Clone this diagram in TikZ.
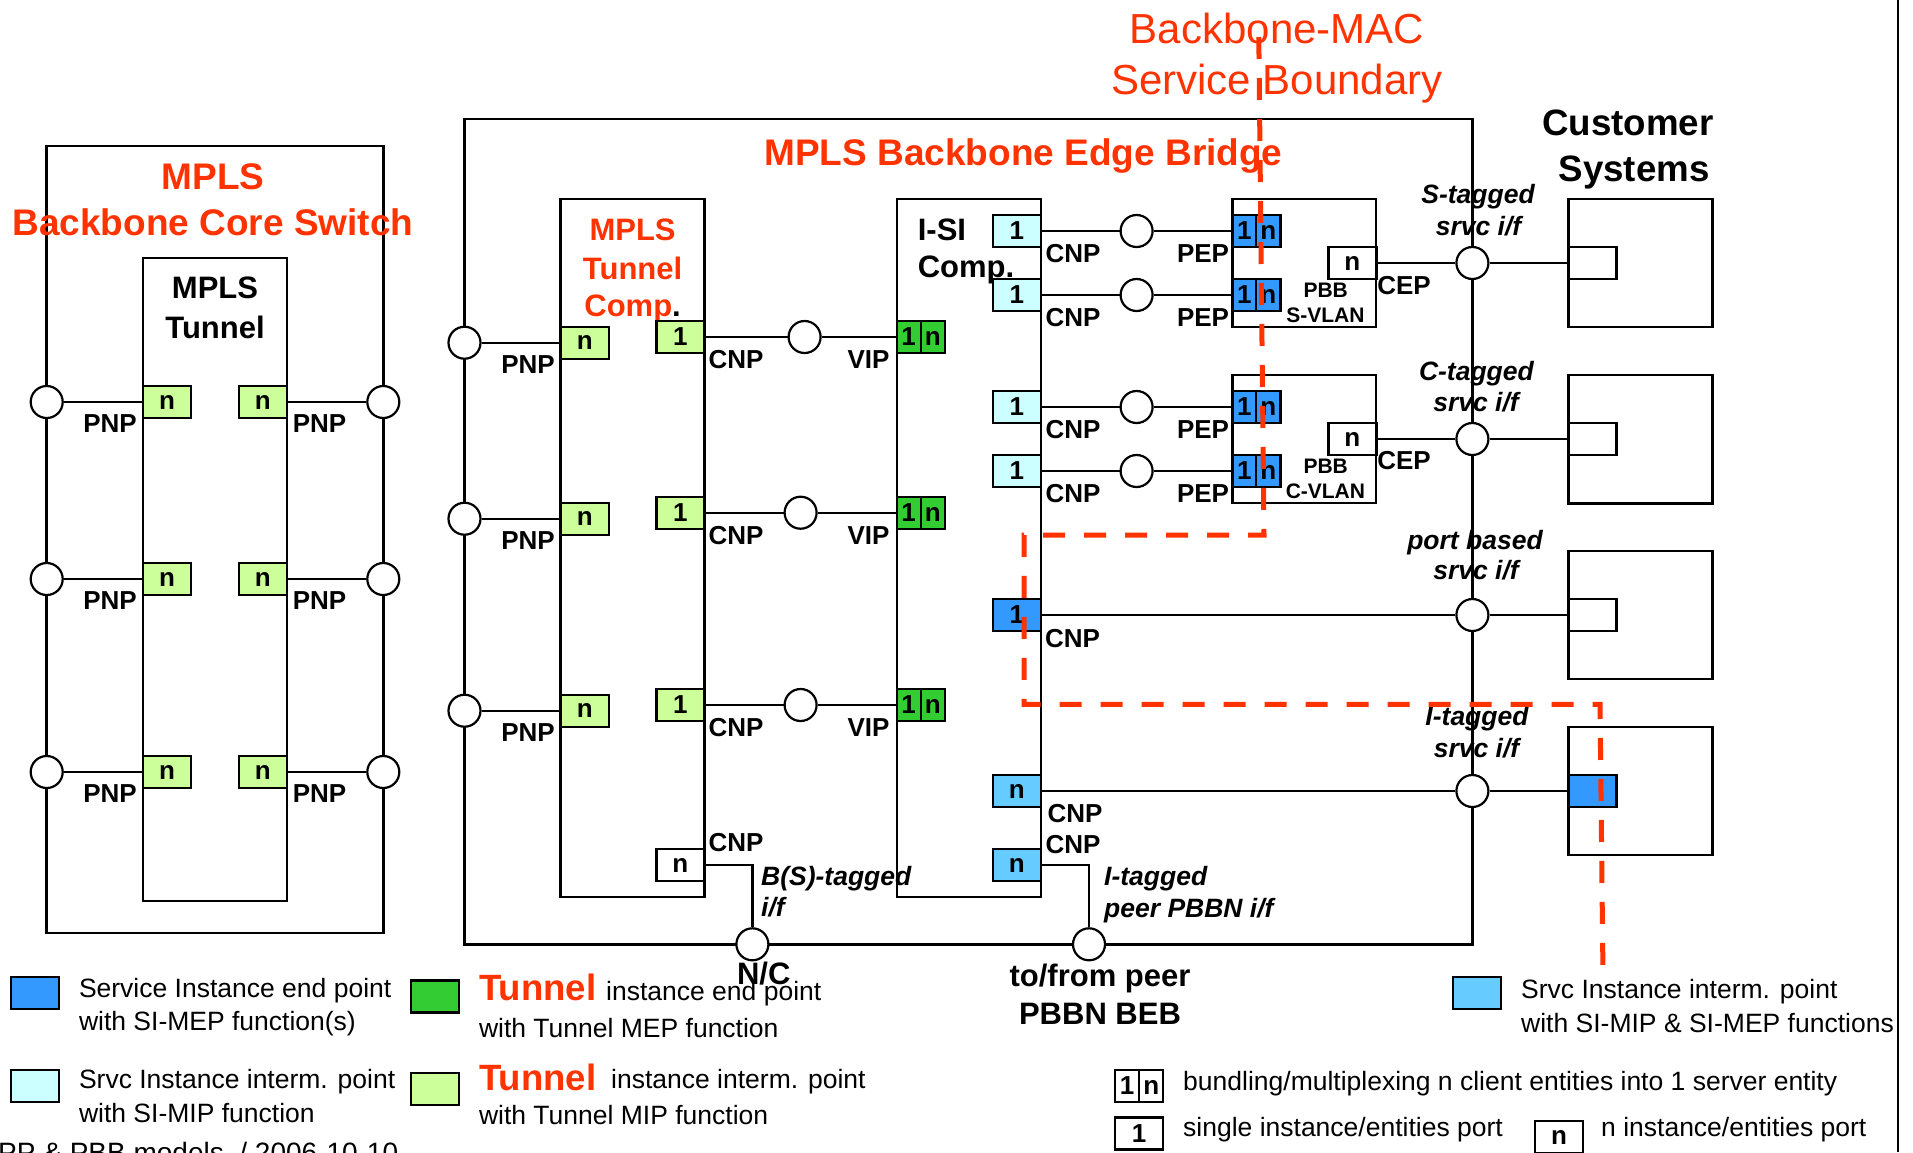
\documentclass[tikz,border=0pt]{standalone}
\usepackage{fontspec}
\setmainfont{Liberation Sans}
\newcommand\myfs[2]{\fontsize{#1pt}{#2pt}\selectfont}
\definecolor{mplsred}{HTML}{FF3300}
\definecolor{simep}{HTML}{3399FF}
\definecolor{simip}{HTML}{CCFFFF}
\definecolor{simipmep}{HTML}{66CCFF}
\definecolor{tunmep}{HTML}{33CC33}
\definecolor{tunmip}{HTML}{CCFF99}
\tikzset{
  frame/.style={draw, line width=2.4pt},
  port/.style={draw, line width=2.4pt, minimum width=48pt, minimum height=32pt,
    inner sep=0pt, font=\myfs{26}{30}\bfseries},
  bundle/.style={port, path picture={\draw[line width=2.2pt]
    (path picture bounding box.north) -- (path picture bounding box.south);}},
  pt/.style={circle, draw, fill=white, line width=2.2pt, minimum size=32pt, inner sep=0pt},
  wire/.style={line width=2.4pt},
  title/.style={font=\myfs{37}{44}\bfseries, text=mplsred, inner sep=0pt},
  big/.style={font=\myfs{31}{36}\bfseries, inner sep=0pt},
  lbl/.style={font=\myfs{26}{30}\bfseries, inner sep=0pt},
  pbb/.style={font=\myfs{21}{24}\bfseries, inner sep=0pt},
  ital/.style={font=\myfs{26.5}{32}\bfseries\itshape, inner sep=0pt},
  leg/.style={font=\myfs{26.5}{32}, inner sep=0pt, anchor=west},
  boundary/.style={mplsred, line width=5pt, dash pattern=on 22pt off 19pt},
}
\newcommand\bun{\makebox[24pt]{1}\makebox[24pt]{n}}
\begin{document}
\begin{tikzpicture}[x=1pt, y=-1pt]
\useasboundingbox (0,0) rectangle (1913,1152);
\clip (0,0) rectangle (1913,1152);
\fill[white] (0,0) rectangle (1913,1152);

% ---------------- MPLS Backbone Core Switch ----------------
\draw[frame, line width=2.8pt] (46.7,146) rectangle (383.3,933);
\draw[frame] (142.7,258) rectangle (287,901);
\node[title] (csT1) at (213,177) {MPLS};
\node[title] (csT2) at (213,222) {Backbone Core Switch};
\node[big] (ctT1) at (215,288) {MPLS};
\node[big] (ctT2) at (215,327) {Tunnel};
\foreach \r/\y in {1/402,2/579,3/772} {
  \node[pt] (csL\r) at (46.7,\y) {};
  \node[pt] (csR\r) at (383.3,\y) {};
  \node[port, fill=tunmip] (ctL\r) at (167,\y) {n};
  \node[port, fill=tunmip] (ctR\r) at (262.9,\y) {n};
  \draw[wire] (csL\r) -- (ctL\r);
  \draw[wire] (ctR\r) -- (csR\r);
  \node[lbl] (pnpL\r) at (110,\y+22) {PNP};
  \node[lbl] (pnpR\r) at (319.5,\y+22) {PNP};
}

% ---------------- MPLS Backbone Edge Bridge ----------------
\draw[frame] (464.5,119) rectangle (1472.4,944.3);
\node[title] (bebT) at (1023.5,156) {MPLS Backbone Edge Bridge};

% MPLS tunnel component
\draw[frame] (560.6,199) rectangle (704.5,896.7);
\node[big, text=mplsred] (tcT1) at (632.6,230) {MPLS};
\node[big, text=mplsred] (tcT2) at (632.6,268) {Tunnel};
\node[big, text=mplsred] (tcT3) at (632.6,309) {Comp\textcolor{black}{.}};

% I-SI component
\draw[frame] (896.7,199) rectangle (1041,896.7);
\node[big, anchor=west] (isT1) at (917.6,230) {I-SI};
\node[big, anchor=west] (isT2) at (917.6,270) {Comp.};

\foreach \r/\yl/\yc/\xc in {1/342.7/337/804.6, 2/518.7/512.7/800.6, 3/710.7/705/800.6} {
  \node[pt] (bL\r) at (464.5,\yl) {};
  \node[port, fill=tunmip] (tn\r) at (584.7,\yl) {n};
  \node[port, fill=tunmip] (t1\r) at (680.4,\yc) {1};
  \node[pt] (vc\r) at (\xc,\yc) {};
  \node[bundle, fill=tunmep] (vip\r) at (920.7,\yc) {\bun};
  \draw[wire] (bL\r) -- (tn\r);
  \draw[wire] (t1\r) -- (vc\r) -- (vip\r);
  \node[lbl] (pnp\r) at (528,\yl+22) {PNP};
  \node[lbl] (cnp\r) at (736,\yc+23) {CNP};
  \node[lbl] (vipl\r) at (868.5,\yc+23) {VIP};
}

% B(S)-tagged interface towards N/C
\node[port, fill=white] (tnB) at (680.3,865) {n};
\node[pt] (cNC) at (752.4,944.3) {};
\draw[wire] (tnB.east) -| (cNC);
\node[lbl] (cnpB) at (736,843) {CNP};
\node[ital, anchor=west] (bsT1) at (761,879) {B(S)-tagged};
\node[ital, anchor=west] (bsT2) at (761,907) {i/f};
\node[big] (nc) at (763.7,974) {N/C};

% I-SI component ports to PBB components
\foreach \s/\y in {1/231, 2/295, 3/407, 4/471} {
  \node[port, fill=simip] (si\s) at (1016.8,\y) {1};
  \node[pt] (sc\s) at (1136.6,\y) {};
  \node[bundle, fill=simep] (pep\s) at (1256.3,\y) {\bun};
  \draw[wire] (si\s) -- (sc\s) -- (pep\s);
  \node[lbl] (cnpS\s) at (1073,\y+23) {CNP};
  \node[lbl] (pepS\s) at (1203,\y+23) {PEP};
}

% PBB S-VLAN / C-VLAN components
\draw[frame] (1232.3,199) rectangle (1376.2,326.8);
\draw[frame] (1232.3,375) rectangle (1376.2,502.9);
\node[port, fill=white] (cep1) at (1352.3,263) {n};
\node[port, fill=white] (cep2) at (1352.3,439) {n};
\node[pbb] (pbb1) at (1325.7,290) {PBB};
\node[pbb] (pbb2) at (1325.4,315) {S-VLAN};
\node[pbb] (pbb3) at (1325.7,466) {PBB};
\node[pbb] (pbb4) at (1325.4,491) {C-VLAN};
\node[lbl] (cepL1) at (1404,285.7) {CEP};
\node[lbl] (cepL2) at (1404,460.7) {CEP};

% port based and I-tagged ports
\node[port, fill=simep] (si5) at (1016.8,615) {1};
\node[lbl] (cnp5) at (1072.5,638.3) {CNP};
\node[port, fill=simipmep] (si6) at (1016.8,791) {n};
\node[lbl] (cnp6) at (1075,813.3) {CNP};
\node[port, fill=simipmep] (si7) at (1016.8,865) {n};
\node[lbl] (cnp7) at (1073,845) {CNP};
\node[pt] (cPB) at (1089,944.3) {};
\draw[wire] (si7.east) -| (cPB);
\node[ital, anchor=west] (itT1) at (1104,878.5) {I-tagged};
\node[ital, anchor=west] (itT2) at (1104,910.5) {peer PBBN i/f};
\node[big] (peer1) at (1100,978.5) {to/from peer};
\node[big] (peer2) at (1100,1013.5) {PBBN BEB};

% ---------------- Customer systems ----------------
\node[font=\myfs{36.7}{44}\bfseries, inner sep=0pt] (cuT1) at (1628,123.3) {Customer};
\node[font=\myfs{36.7}{44}\bfseries, inner sep=0pt] (cuT2) at (1634,172) {Systems};
\draw[frame] (1568.6,198.7) rectangle (1712.4,327);
\draw[frame] (1568.6,375) rectangle (1712.4,503.3);
\draw[frame] (1568.6,551) rectangle (1712.4,679);
\draw[frame] (1568.6,726.7) rectangle (1712.4,855);
\node[pt] (cs1) at (1472.4,263) {};
\node[pt] (cs2) at (1472.4,439) {};
\node[pt] (cs3) at (1472.4,615) {};
\node[pt] (cs4) at (1472.4,791) {};
\node[port, fill=white] (sq1) at (1592.6,263) {};
\node[port, fill=white] (sq2) at (1592.6,439) {};
\node[port, fill=white] (sq3) at (1592.6,615) {};
\node[port, fill=simep] (sq4) at (1592.6,791) {};
\draw[wire] (cep1) -- (cs1) -- (sq1);
\draw[wire] (cep2) -- (cs2) -- (sq2);
\draw[wire] (si5) -- (cs3) -- (sq3);
\draw[wire] (si6) -- (cs4) -- (sq4);
\node[ital] (ifS1) at (1478,196.5) {S-tagged};
\node[ital] (ifS2) at (1478.5,226.5) {srvc i/f};
\node[ital] (ifC1) at (1476.4,373.5) {C-tagged};
\node[ital] (ifC2) at (1476,402) {srvc i/f};
\node[ital] (ifP1) at (1475,542.5) {port based};
\node[ital] (ifP2) at (1476,570.5) {srvc i/f};
\node[ital] (ifI1) at (1477,718.5) {I-tagged};
\node[ital] (ifI2) at (1476.5,748.5) {srvc i/f};

% ---------------- Backbone-MAC service boundary ----------------
\node[font=\myfs{42}{48}, text=mplsred, inner sep=0pt] (bmT1) at (1277,28.5) {Backbone-MAC};
\node[font=\myfs{42}{48}, text=mplsred, inner sep=0pt] (bmT2) at (1276.8,84) {Service Boundary};
\draw[boundary] (1258.8,37) -- (1264,535) -- (1024,535) -- (1024,704.3)
  -- (1600,704.3) -- (1603,976.7);

% ---------------- Legend ----------------
\node[port, fill=simep] (lg1) at (35.2,992.9) {};
\node[leg] (lg1a) at (78.8,990.5) {Service Instance end point};
\node[leg] (lg1b) at (78.8,1023.5) {with SI-MEP function(s)};
\node[port, fill=simip] (lg2) at (35.2,1085.7) {};
\node[leg] (lg2a) at (78.8,1082) {Srvc Instance interm. point};
\node[leg] (lg2b) at (78.8,1113.5) {with SI-MIP function};
\node[port, fill=tunmep] (lg3) at (435.2,996.4) {};
\node[leg, font=\myfs{36.6}{44}\bfseries, text=mplsred] (lg3a) at (478.8,987.5) {Tunnel};
\node[leg] (lg3b) at (606,993.5) {instance end point};
\node[leg] (lg3c) at (478.8,1028) {with Tunnel MEP function};
\node[port, fill=tunmip] (lg4) at (435.2,1088.9) {};
\node[leg, font=\myfs{36.6}{44}\bfseries, text=mplsred] (lg4a) at (478.8,1077) {Tunnel};
\node[leg] (lg4b) at (611,1082) {instance interm. point};
\node[leg] (lg4c) at (478.8,1115) {with Tunnel MIP function};
\node[port, fill=simipmep] (lg5) at (1477,992.9) {};
\node[leg] (lg5a) at (1521,992) {Srvc Instance interm. point};
\node[leg] (lg5b) at (1521,1023.5) {with SI-MIP \& SI-MEP functions};
\node[bundle, fill=white] (lg6) at (1139.2,1085.9) {\bun};
\node[leg] (lg6a) at (1183,1083.5) {bundling/multiplexing n client entities into 1 server entity};
\node[port, fill=white] (lg7) at (1139.2,1133.5) {1};
\node[leg] (lg7a) at (1183,1130) {single instance/entities port};
\node[port, fill=white] (lg8) at (1559,1137) {n};
\node[leg] (lg8a) at (1601,1130) {n instance/entities port};

% footer and page edge
\node[font=\myfs{28}{32}, inner sep=0pt, anchor=base west] (foot) at (-2,1162) {PP \& PBB models\ \ / 2006-10-10};
\draw[line width=2.5pt] (1898,0) -- (1898,1152);
\end{tikzpicture}
\end{document}
